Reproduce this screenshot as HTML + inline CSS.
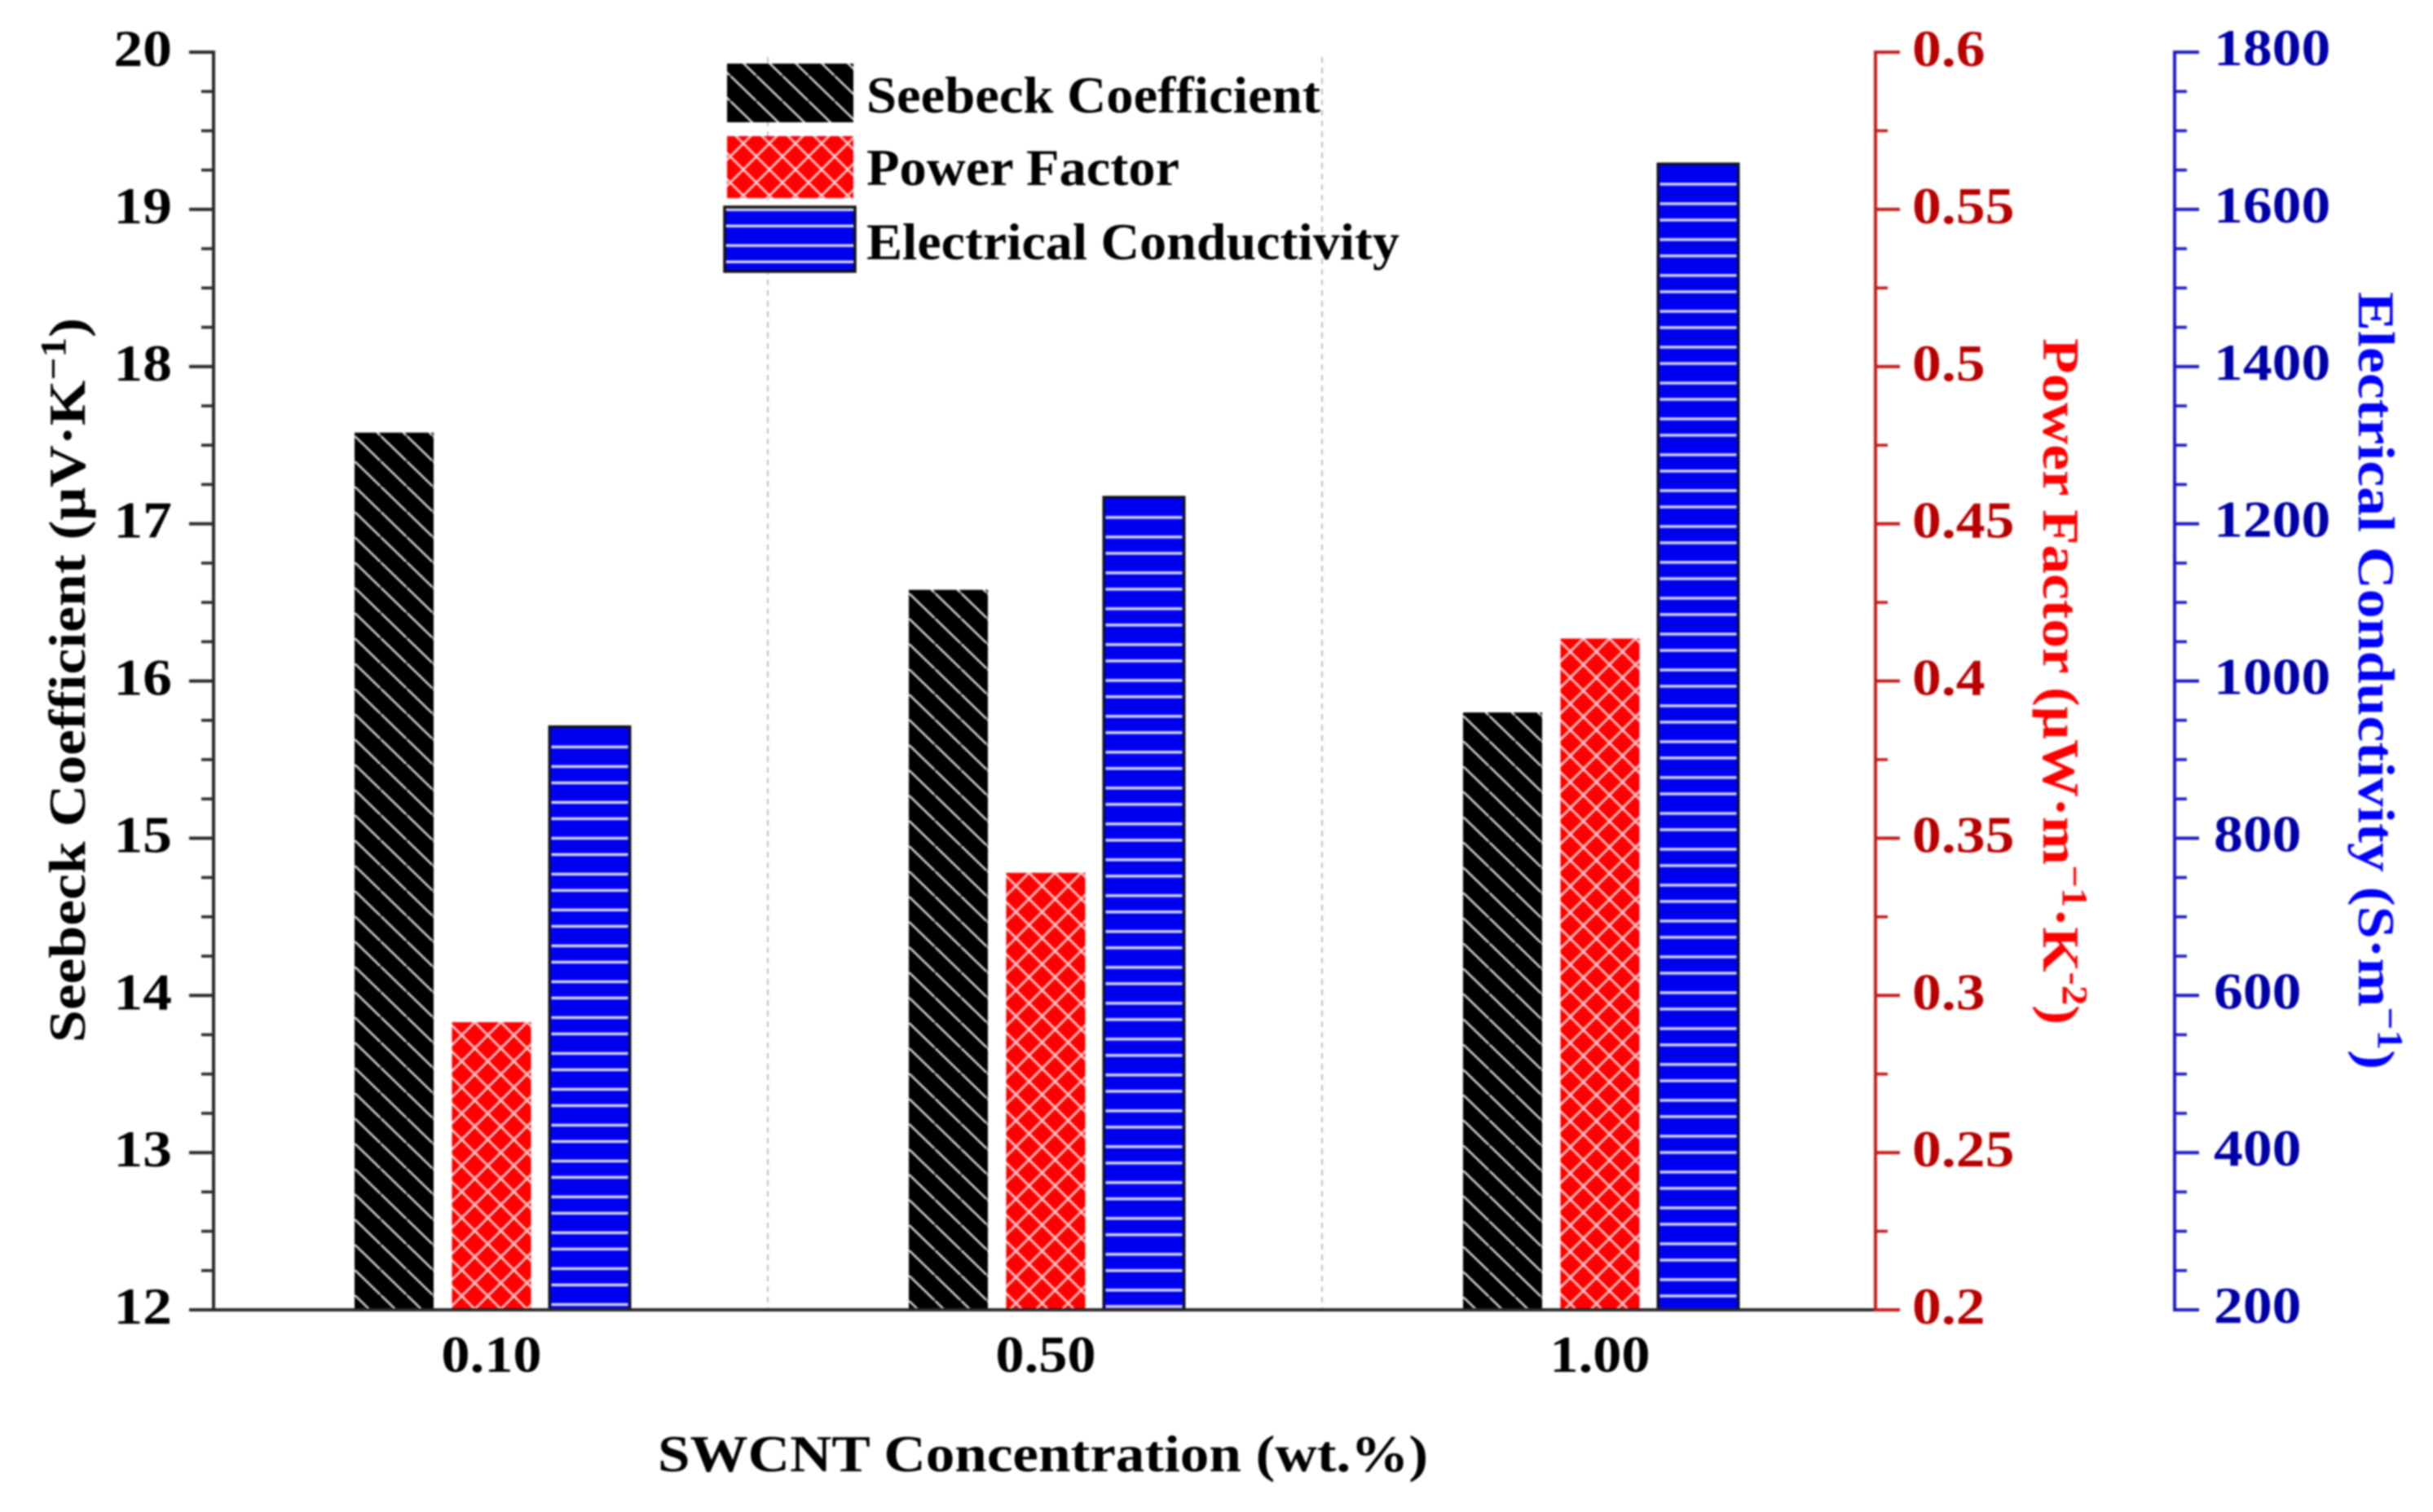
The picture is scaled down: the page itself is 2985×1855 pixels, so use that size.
<!DOCTYPE html>
<html lang="en">
<head>
<meta charset="utf-8">
<title>SWCNT Concentration Bar Chart</title>
<style>
html,body{margin:0;padding:0;background:#fff;width:2985px;height:1855px;overflow:hidden}
svg{display:block;filter:blur(1px)}
text{font-family:"Liberation Serif",serif;font-weight:bold}
</style>
</head>
<body>
<svg id="chart" xmlns="http://www.w3.org/2000/svg" width="2985" height="1855" viewBox="0 0 2985 1855">
<defs id="defs">
<pattern id="hatch-black" patternUnits="userSpaceOnUse" width="32" height="31">
<rect width="32" height="31" fill="#000"/>
<path d="M-32,-31 L64,62" stroke="#d4d4d4" stroke-width="2.6" fill="none"/>
</pattern>
<pattern id="hatch-red" patternUnits="userSpaceOnUse" width="32" height="32">
<rect width="32" height="32" fill="#ff0000"/>
<path d="M-32,-32 L64,64 M64,-32 L-32,64" stroke="#ffc4c4" stroke-width="2.8" fill="none"/>
</pattern>
<pattern id="hatch-blue-legend" patternUnits="userSpaceOnUse" width="44" height="44">
<rect width="44" height="44" fill="#0000f0"/>
<rect y="11.5" width="44" height="3.5" fill="#d0d0ff"/>
<rect y="35.5" width="44" height="3.5" fill="#d0d0ff"/>
</pattern>
</defs>
<g id="dividers"></g>
<g id="bars"></g>
<g id="axes"></g>

<g>
<rect x="892" y="78" width="155" height="72" fill="url(#hatch-black)"/>
<text x="1063" y="138" font-size="64" textLength="557" lengthAdjust="spacingAndGlyphs">Seebeck Coefficient</text>
<rect x="892" y="167" width="155" height="76" fill="url(#hatch-red)"/>
<text x="1063" y="227" font-size="64" textLength="384" lengthAdjust="spacingAndGlyphs">Power Factor</text>
<rect x="889" y="254" width="160" height="79" fill="url(#hatch-blue-legend)" stroke="#111" stroke-width="3.5"/>
<text x="1063" y="318" font-size="64" textLength="654" lengthAdjust="spacingAndGlyphs">Electrical Conductivity</text>
</g>

<text x="807" y="1805" font-size="64" textLength="945" lengthAdjust="spacingAndGlyphs">SWCNT Concentration (wt.%)</text>

<text transform="translate(104,1279) rotate(-90)" font-size="64" fill="#000" textLength="889" lengthAdjust="spacingAndGlyphs">Seebeck Coefficient (μV·K<tspan dy="-24" font-size="44">−1</tspan><tspan dy="24">)</tspan></text>

<text transform="translate(2507,415) rotate(90)" font-size="64" fill="#ff0000" textLength="842" lengthAdjust="spacingAndGlyphs">Power Factor (μW·m<tspan dy="-24" font-size="44">−1</tspan><tspan dy="24">·K</tspan><tspan dy="-24" font-size="44">-2</tspan><tspan dy="24">)</tspan></text>

<text transform="translate(2894,358) rotate(90)" font-size="64" fill="#0000ff" textLength="954" lengthAdjust="spacingAndGlyphs">Electrical Conductivity (S·m<tspan dy="-24" font-size="44">−1</tspan><tspan dy="24">)</tspan></text>
</svg>

<script>
const categories = ['0.10', '0.50', '1.00'];
const seebeckValues = [17.58, 16.58, 15.8];
const powerFactorValues = [0.2915, 0.339, 0.4135];
const conductivityValues = [942, 1234, 1658];
const seebeckTicks = ['12', '13', '14', '15', '16', '17', '18', '19', '20'];
const powerFactorTicks = ['0.2', '0.25', '0.3', '0.35', '0.4', '0.45', '0.5', '0.55', '0.6'];
const conductivityTicks = ['200', '400', '600', '800', '1000', '1200', '1400', '1600', '1800'];

const NS = 'http://www.w3.org/2000/svg';
const plotBottom = 1607;
const plotTop = 64;
const catOrigin = 603;
const catStep = 680;
const axisLeftX = catOrigin - catStep / 2 - 1;
const axisRedX = 2301;
const axisBlueX = 2668;
const barWidth = 97;

function xCat(i) { return catOrigin + catStep * i; }
function linearY(v, lo, hi) { return plotBottom - (v - lo) / (hi - lo) * (plotBottom - plotTop); }
function ySeebeck(v) { return linearY(v, 12, 20); }
function yPower(v) { return linearY(v, 0.2, 0.6); }
function yConductivity(v) { return linearY(v, 200, 1800); }

function make(tag, attrs, parent) {
  const el = document.createElementNS(NS, tag);
  for (const k in attrs) el.setAttribute(k, attrs[k]);
  parent.appendChild(el);
  return el;
}

const defsLayer = document.getElementById('defs');
const barsLayer = document.getElementById('bars');
const axesLayer = document.getElementById('axes');
const dividerLayer = document.getElementById('dividers');

function barPattern(id, w, h, tx, ty, bg, d, stroke, sw) {
  const p = make('pattern', { id: id, patternUnits: 'userSpaceOnUse', width: w, height: h, patternTransform: 'translate(' + tx + ',' + ty + ')' }, defsLayer);
  if (bg) make('rect', { width: w, height: h, fill: bg }, p);
  make('path', { d: d, stroke: stroke, 'stroke-width': sw, fill: 'none' }, p);
  return 'url(#' + id + ')';
}

function drawSeebeckBar(c, cx, top) {
  const x = cx - barWidth / 2;
  const fill = barPattern('bar-black-' + c, 32, 31, x, top + 4, '#000', 'M-32,-31 L64,62', '#d4d4d4', 2.6);
  const r = make('rect', { x: x, y: top, width: barWidth, height: plotBottom - top, fill: fill }, barsLayer);
  
  
}

function drawPowerBar(c, cx, top) {
  const x = cx - barWidth / 2;
  const fill = barPattern('bar-red-' + c, 32, 32, x + 44, top + 16, '#ff0000', 'M-32,-32 L64,64 M64,-32 L-32,64', '#ffc4c4', 2.8);
  const r = make('rect', { x: x, y: top, width: barWidth, height: plotBottom - top, fill: fill }, barsLayer);
  
  
}

function drawConductivityBar(c, cx, top) {
  const w = barWidth + 2;
  const x = cx - w / 2;
  const r = make('rect', { x: x, y: top, width: w, height: plotBottom - top, fill: '#0000f0', stroke: '#111', 'stroke-width': 3 }, barsLayer);
  
  
  const lines = barPattern('bar-blue-' + c, 44, 44, x, top + 20, null, 'M0,5 H44 M0,29 H44', '#d4d4ff', 3.5);
  const s = make('rect', { x: x + 2.5, y: top + 20, width: w - 5, height: plotBottom - top - 22, fill: lines }, barsLayer);
  
  
}

categories.forEach(function (c, i) {
  drawSeebeckBar(c, xCat(i) - 119.5, ySeebeck(seebeckValues[i]));
  drawPowerBar(c, xCat(i), yPower(powerFactorValues[i]));
  drawConductivityBar(c, xCat(i) + 120.5, yConductivity(conductivityValues[i]));

  const lab = make('text', { transform: 'translate(' + xCat(i) + ',1683) scale(1.1,1)', 'text-anchor': 'middle', 'font-size': 64 }, axesLayer);
  lab.textContent = c;
  
  

  if (i < categories.length - 1) {
    const d = make('line', { x1: xCat(i + 0.5) - 1, x2: xCat(i + 0.5) - 1, y1: 70, y2: plotBottom, stroke: '#bcbcbc', 'stroke-width': 2, 'stroke-dasharray': '7 6' }, dividerLayer);
    
    
  }
});

function drawAxis(name, x, labels, minorCount, dir, lineColor, textColor, labelX, anchor, labelOffset) {
  const step = (plotBottom - plotTop) / (labels.length - 1);
  const line = make('line', { x1: x, x2: x, y1: plotTop - 2, y2: plotBottom + 2, stroke: lineColor, 'stroke-width': 4 }, axesLayer);
  
  
  labels.forEach(function (t, i) {
    const y = plotBottom - i * step;
    const major = make('line', { x1: x, x2: x + dir * 30, y1: y, y2: y, stroke: lineColor, 'stroke-width': 4 }, axesLayer);
    
    
    const lab = make('text', { transform: 'translate(' + labelX + ',' + (y + labelOffset) + ') scale(1.12,1)', 'text-anchor': anchor, 'font-size': 64, fill: textColor }, axesLayer);
    lab.textContent = t;
    
    
    if (i < labels.length - 1) {
      for (let m = 1; m <= minorCount; m++) {
        const my = y - m * step / (minorCount + 1);
        const minor = make('line', { x1: x, x2: x + dir * 15, y1: my, y2: my, stroke: lineColor, 'stroke-width': 3.6 }, axesLayer);
        
        
      }
    }
  });
}

const baseline = make('line', { x1: 235, x2: axisRedX, y1: plotBottom, y2: plotBottom, stroke: '#2a2a2a', 'stroke-width': 4 }, axesLayer);



drawAxis('seebeck-axis', axisLeftX, seebeckTicks, 3, -1, '#2a2a2a', '#000', 211, 'end', 17);
drawAxis('power-factor-axis', axisRedX, powerFactorTicks, 1, 1, '#c41c1c', '#b80000', 2346, 'start', 17);
drawAxis('conductivity-axis', axisBlueX, conductivityTicks, 3, 1, '#1c1cc4', '#0000a8', 2716, 'start', 16);
</script>
</body>
</html>
